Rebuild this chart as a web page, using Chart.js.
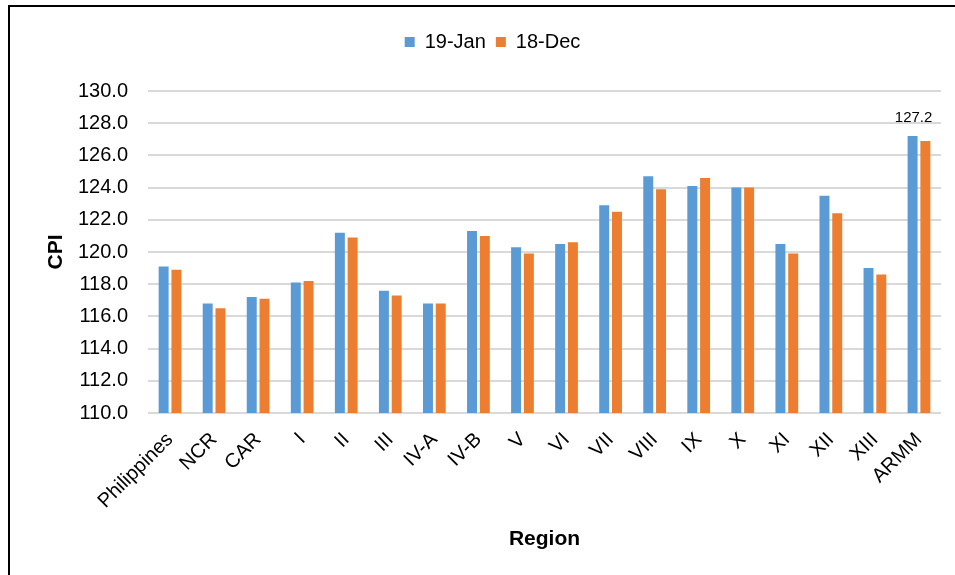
<!DOCTYPE html>
<html>
<head>
<meta charset="utf-8">
<script src="https://cdn.jsdelivr.net/npm/chart.js@4.4.1/dist/chart.umd.min.js"></script>
<style>
  html, body { margin: 0; padding: 0; background: #fff; }
  #wrap { position: relative; width: 955px; height: 575px; overflow: hidden; }
  #frame { position: absolute; left: 8px; top: 5px; width: 1000px; height: 700px;
           border-left: 2px solid #000; border-top: 2px solid #000; box-sizing: border-box; }
  canvas { position: absolute; left: 0; top: 0; }
</style>
</head>
<body>
<div id="wrap">
  <div id="frame"></div>
  <canvas id="chart" width="955" height="575"></canvas>
</div>
<script>
// Regions of the Philippines
const regions = ['Philippines', 'NCR', 'CAR', 'I', 'II', 'III', 'IV-A', 'IV-B', 'V', 'VI',
                 'VII', 'VIII', 'IX', 'X', 'XI', 'XII', 'XIII', 'ARMM'];

// Consumer price index, January 2019
const cpiJan19 = [119.1, 116.8, 117.2, 118.1, 121.2, 117.6, 116.8, 121.3, 120.3, 120.5,
                  122.9, 124.7, 124.1, 124.0, 120.5, 123.5, 119.0, 127.2];

// Consumer price index, December 2018
const cpiDec18 = [118.9, 116.5, 117.1, 118.2, 120.9, 117.3, 116.8, 121.0, 119.9, 120.6,
                  122.5, 123.9, 124.6, 124.0, 119.9, 122.4, 118.6, 126.9];

// Value axis range
const yMin = 110;
const yMax = 130;
const yStep = 2;

// Only the highest January bar carries a value label
const labelledSeries = 0;
const labelledIndex = regions.indexOf('ARMM');

const FONT = '"Liberation Sans", Arial, sans-serif';

// Keeps a fixed gap between the legend and the plot
const legendHeightPlugin = {
  id: 'legendHeight',
  beforeLayout(chart) {
    const lg = chart.legend;
    if (lg && !lg._fixedHeight) {
      const fit = lg.fit.bind(lg);
      lg.fit = function () { fit(); this.height = 69; };
      lg._fixedHeight = true;
    }
  }
};

// Writes the value above the labelled bar
const valueLabelPlugin = {
  id: 'valueLabel',
  afterDatasetsDraw(chart) {
    const meta = chart.getDatasetMeta(labelledSeries);
    const bar = meta.data[labelledIndex];
    if (!bar) return;
    const value = chart.data.datasets[labelledSeries].data[labelledIndex];
    const ctx = chart.ctx;
    ctx.save();
    ctx.font = '15px ' + FONT;
    ctx.fillStyle = '#000';
    ctx.textAlign = 'center';
    ctx.textBaseline = 'alphabetic';
    ctx.fillText(value.toFixed(1), bar.x + 1, bar.y - 14);
    ctx.restore();
  }
};

new Chart(document.getElementById('chart'), {
  type: 'bar',
  data: {
    labels: regions,
    datasets: [
      { label: '19-Jan', data: cpiJan19, backgroundColor: '#5B9BD5',
        categoryPercentage: 0.58, barPercentage: 0.78 },
      { label: '18-Dec', data: cpiDec18, backgroundColor: '#ED7D31',
        categoryPercentage: 0.58, barPercentage: 0.78 }
    ]
  },
  options: {
    responsive: false,
    animation: false,
    layout: { padding: { left: 44, right: 14, top: 22, bottom: 23 } },
    plugins: {
      legend: {
        position: 'top',
        labels: {
          boxWidth: 10, boxHeight: 10, padding: 10,
          color: '#000',
          font: { family: FONT, size: 20 }
        }
      },
      tooltip: { enabled: false }
    },
    scales: {
      x: {
        grid: { display: false },
        border: { display: false },
        ticks: {
          color: '#000',
          font: { family: FONT, size: 20 },
          minRotation: 45, maxRotation: 45,
          autoSkip: false,
          padding: 7
        },
        title: {
          display: true, text: 'Region', color: '#000',
          font: { family: FONT, size: 21, weight: 'bold' },
          padding: 0
        },
        afterFit(scale) { scale.height = 139; }
      },
      y: {
        min: yMin, max: yMax,
        grid: { color: '#D9D9D9', lineWidth: 2, drawTicks: false },
        border: { display: false },
        ticks: {
          stepSize: yStep,
          color: '#000',
          font: { family: FONT, size: 20 },
          padding: 20,
          callback: v => Number(v).toFixed(1)
        },
        title: {
          display: true, text: 'CPI', color: '#000',
          font: { family: FONT, size: 21, weight: 'bold' },
          padding: 0
        },
        afterFit(scale) { scale.width = 104; }
      }
    }
  },
  plugins: [legendHeightPlugin, valueLabelPlugin]
});
</script>
</body>
</html>
